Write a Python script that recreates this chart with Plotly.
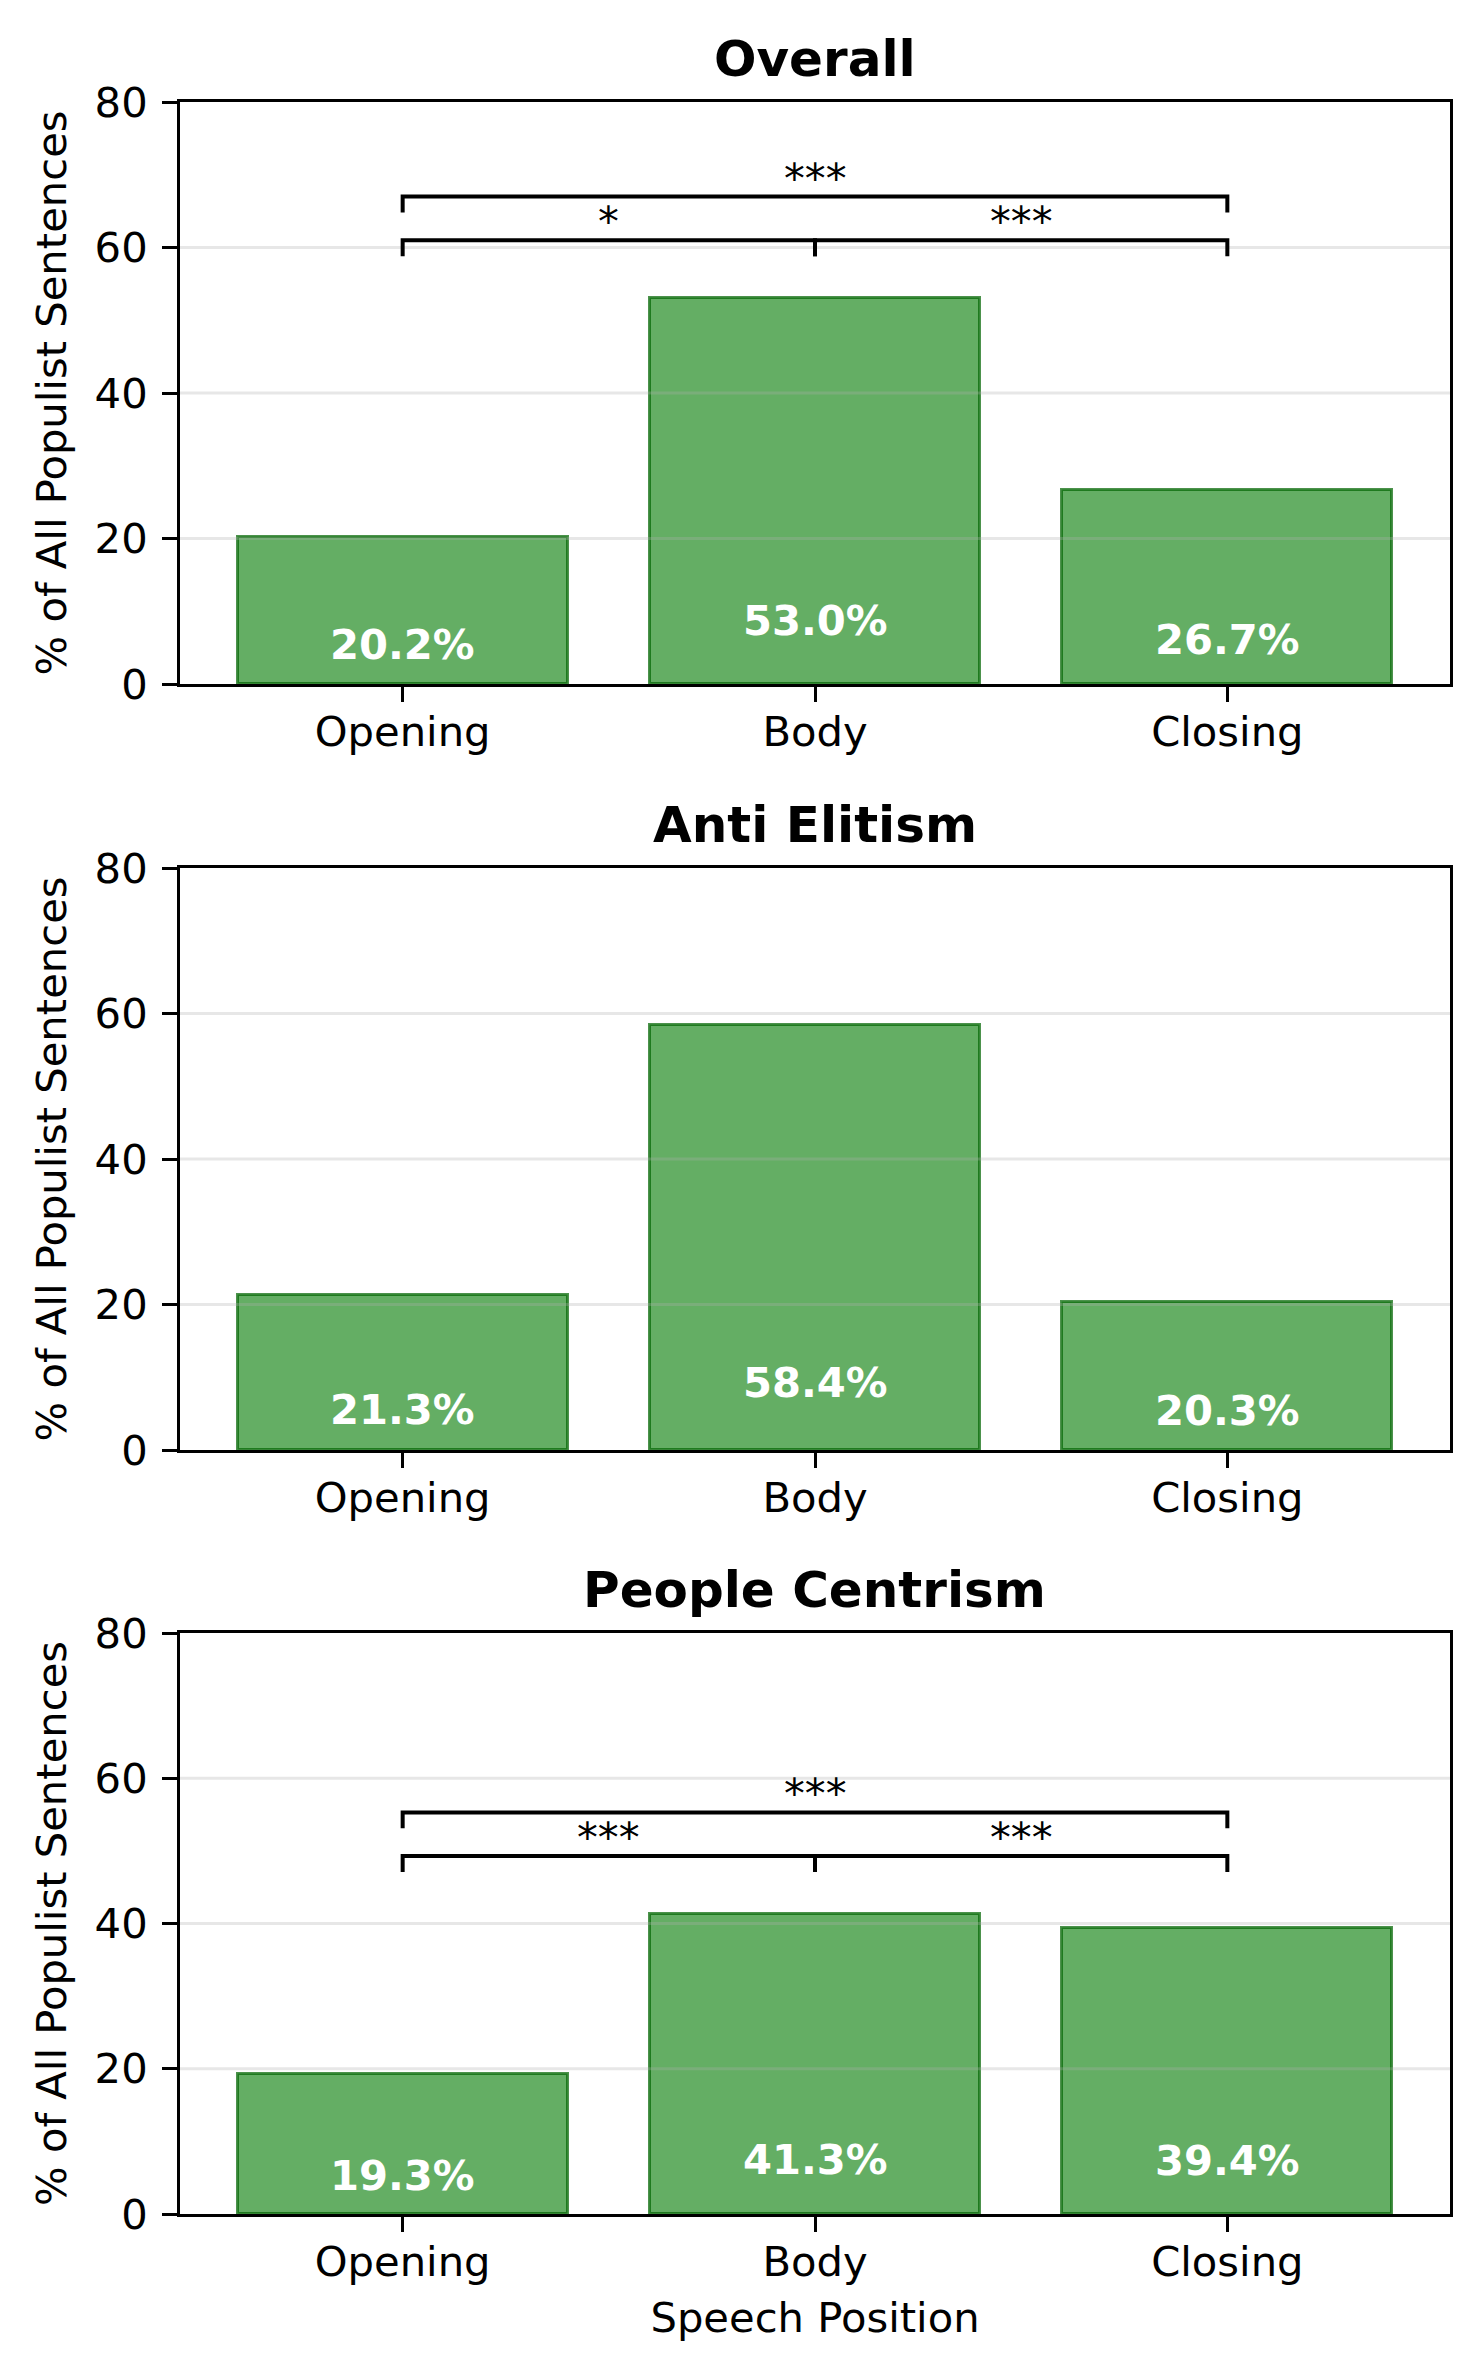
import plotly.graph_objects as go

# ---------------- data ----------------
categories = ["Opening", "Body", "Closing"]
titles = ["Overall", "Anti Elitism", "People Centrism"]
overall = [20.2, 53.0, 26.7]
anti_elitism = [21.3, 58.4, 20.3]
people_centrism = [19.3, 41.3, 39.4]
series = [overall, anti_elitism, people_centrism]
# significance pairs: (i, j, label)
sig_overall = [(0, 1, "*"), (1, 2, "***"), (0, 2, "***")]
sig_anti = []
sig_people = [(0, 1, "***"), (1, 2, "***"), (0, 2, "***")]
sigs = [sig_overall, sig_anti, sig_people]
y_ticks = [0, 20, 40, 60, 80]

# ---------------- layout helpers ----------------
W, H = 1470, 2366
FONT = "DejaVu Sans"
FS = 41.7          # 10 pt at 300 dpi
FS_T = 50          # 12 pt
x_left, x_right = 172, 1442
panels_px = [(94, 676), (860, 1442), (1625, 2206)]  # (top, bottom) in pixels


def py(p):
    return 1 - p / H


def px(p):
    return p / W


fig = go.Figure()
shapes = []
annotations = []
LW = 3

for k, (vals, title, sig, (top, bot)) in enumerate(zip(series, titles, sigs, panels_px)):
    n = "" if k == 0 else str(k + 1)
    xa, ya = "x" + n, "y" + n
    fig.add_trace(go.Bar(
        x=list(range(len(categories))), y=vals, width=0.8,
        marker=dict(color="rgba(34,139,34,0.7)",
                    line=dict(color="rgba(0,100,0,0.7)", width=3)),
        xaxis=xa, yaxis=ya, showlegend=False, hoverinfo="skip"))

    fig.layout["xaxis" + n] = dict(
        domain=[px(x_left), px(x_right)], anchor=ya, range=[-0.54, 2.54],
        tickvals=list(range(len(categories))), ticktext=categories,
        ticks="outside", ticklen=15, tickwidth=LW, tickcolor="black",
        showline=True, linecolor="black", linewidth=LW, mirror=True,
        showgrid=False, zeroline=False, automargin=False,
        tickfont=dict(family=FONT, size=FS, color="black"),
        ticklabelstandoff=-6,
        title=dict(text="Speech Position" if k == 2 else "",
                   font=dict(family=FONT, size=FS, color="black"), standoff=18),
    )
    fig.layout["yaxis" + n] = dict(
        domain=[py(bot), py(top)], anchor=xa, range=[0, 80],
        tickvals=y_ticks, ticks="outside", ticklen=15, tickwidth=LW, tickcolor="black",
        showline=True, linecolor="black", linewidth=LW, mirror=True,
        showgrid=False, zeroline=False, automargin=False,
        tickfont=dict(family=FONT, size=FS, color="black"),
        ticklabelstandoff=6,
        title=dict(text="% of All Populist Sentences",
                   font=dict(family=FONT, size=FS, color="black"), standoff=16),
    )

    # gridlines drawn above bars (as in reference)
    for t in y_ticks[1:-1]:
        shapes.append(dict(type="line", xref=xa + " domain", yref=ya,
                           x0=0, x1=1, y0=t, y1=t,
                           line=dict(color="rgba(176,176,176,0.3)", width=LW),
                           layer="above"))

    # subplot title
    annotations.append(dict(text="<b>%s</b>" % title, xref="paper", yref="paper",
                            x=(px(x_left) + px(x_right)) / 2, y=py(top - 25),
                            xanchor="center", yanchor="bottom", yshift=-13,
                            showarrow=False,
                            font=dict(family=FONT, size=FS_T, color="black")))

    # value labels inside bars
    for i, v in enumerate(vals):
        annotations.append(dict(text="<b>%.1f%%</b>" % v, xref=xa, yref=ya,
                                x=i, y=v * 0.1 + 1.3, xanchor="center",
                                yanchor="bottom", yshift=-11, showarrow=False,
                                font=dict(family=FONT, size=FS, color="white")))

    # significance brackets
    if sig:
        m = max(vals)
        tick = 2.2
        for (i, j, lab) in sig:
            h = m + 8 if j - i == 1 else m + 14
            shapes.append(dict(type="path", xref=xa, yref=ya,
                               path="M %s,%s L %s,%s L %s,%s L %s,%s" % (i, h - tick, i, h, j, h, j, h - tick),
                               line=dict(color="black", width=4), layer="above"))
            annotations.append(dict(text=lab, xref=xa, yref=ya, x=(i + j) / 2, y=h,
                                    xanchor="center", yanchor="bottom", yshift=-8,
                                    showarrow=False,
                                    font=dict(family=FONT, size=FS, color="black")))

fig.update_layout(
    width=W, height=H, margin=dict(l=0, r=0, t=0, b=0),
    paper_bgcolor="white", plot_bgcolor="white",
    shapes=shapes, annotations=annotations, bargap=0,
    font=dict(family=FONT, size=FS, color="black"),
)

fig.write_html("out.html")
